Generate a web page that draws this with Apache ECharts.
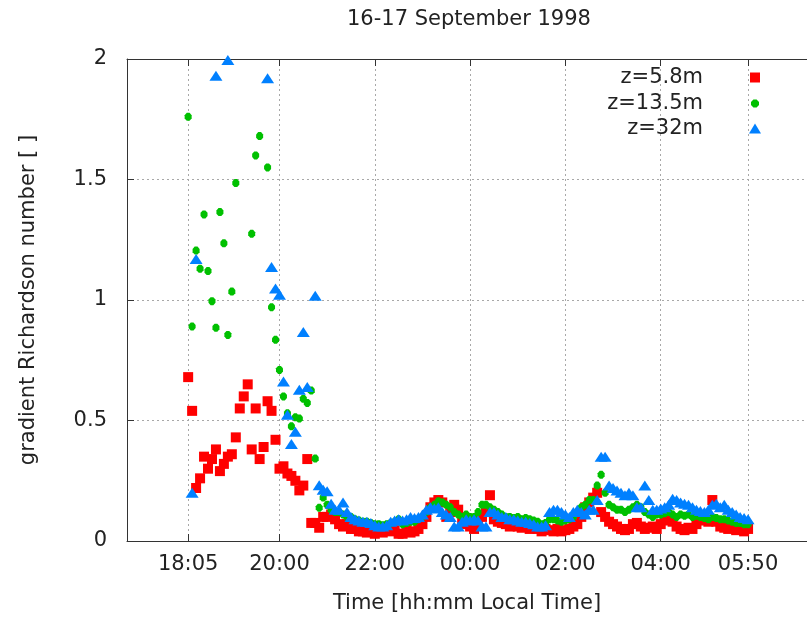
<!DOCTYPE html>
<html>
<head>
<meta charset="utf-8">
<script src="https://cdn.jsdelivr.net/npm/echarts@6/dist/echarts.min.js"></script>
<style>
  html, body { margin: 0; padding: 0; background: #fff; }
  #chart { width: 807px; height: 619px; }
</style>
</head>
<body>
<div id="chart"></div>
<script>
// Gradient Richardson number at three heights, 5-minute samples from 18:05 to 05:50
const titleText = '16-17 September 1998';
const seriesNames = ['z=5.8m', 'z=13.5m', 'z=32m'];
const startTime = '18:05';
const stepMinutes = 5;
const tickLabels = ['18:05', '20:00', '22:00', '00:00', '02:00', '04:00', '05:50'];

const ri58 = [
  0.68, 0.54, 0.22, 0.26, 0.35, 0.30, 0.34, 0.38, 0.29, 0.32,
  0.35, 0.36, 0.43, 0.55, 0.60, 0.65, 0.38, 0.55, 0.34, 0.39,
  0.58, 0.54, 0.42, 0.30, 0.31, 0.28, 0.27, 0.25, 0.21, 0.23,
  0.34, 0.075, 0.075, 0.055, 0.10, 0.10, 0.11, 0.09, 0.07, 0.06,
  0.07, 0.05, 0.05, 0.04, 0.04, 0.035, 0.04, 0.03, 0.04, 0.035,
  0.05, 0.04, 0.045, 0.03, 0.03, 0.045, 0.035, 0.04, 0.05, 0.07,
  0.10, 0.14, 0.16, 0.17, 0.16, 0.10, 0.12, 0.15, 0.13, 0.09,
  0.07, 0.06, 0.05, 0.07, 0.10, 0.12, 0.19, 0.09, 0.08, 0.075,
  0.07, 0.06, 0.065, 0.06, 0.055, 0.06, 0.05, 0.055, 0.05, 0.04,
  0.05, 0.045, 0.04, 0.05, 0.04, 0.045, 0.05, 0.06, 0.07, 0.10,
  0.14, 0.16, 0.18, 0.20, 0.12, 0.10, 0.08, 0.07, 0.06, 0.05,
  0.045, 0.05, 0.07, 0.075, 0.06, 0.05, 0.055, 0.06, 0.05, 0.07,
  0.085, 0.09, 0.08, 0.06, 0.05, 0.045, 0.055, 0.05, 0.07, 0.085,
  0.09, 0.08, 0.17, 0.08, 0.06, 0.055, 0.05, 0.055, 0.045, 0.05,
  0.04, 0.05
];

const ri135 = [
  1.76, 0.89, 1.205, 1.13, 1.355, 1.12, 0.995, 0.885, 1.365, 1.235,
  0.855, 1.035, 1.485, null, null, null, 1.275, 1.60, 1.68, null,
  1.55, 0.97, 0.835, 0.71, 0.60, 0.53, 0.476, 0.513, 0.508, 0.59,
  0.573, 0.624, 0.342, 0.138, 0.18, 0.15, 0.13, 0.12, 0.12, 0.11,
  0.10, 0.10, 0.09, 0.085, 0.08, 0.08, 0.075, 0.07, 0.07, 0.065,
  0.07, 0.075, 0.08, 0.09, 0.07, 0.075, 0.08, 0.08, 0.09, 0.10,
  0.12, 0.14, 0.15, 0.165, 0.16, 0.15, 0.14, 0.12, 0.11, 0.10,
  0.11, 0.10, 0.10, 0.12, 0.15, 0.15, 0.14, 0.13, 0.12, 0.11,
  0.10, 0.10, 0.095, 0.10, 0.09, 0.095, 0.09, 0.085, 0.08, 0.07,
  0.075, 0.09, 0.09, 0.085, 0.08, 0.085, 0.09, 0.10, 0.12, 0.14,
  0.15, 0.17, 0.17, 0.23, 0.275, 0.20, 0.15, 0.14, 0.13, 0.13,
  0.12, 0.13, 0.14, 0.15, 0.14, 0.12, 0.11, 0.10, 0.11, 0.11,
  0.115, 0.12, 0.11, 0.10, 0.11, 0.105, 0.11, 0.10, 0.105, 0.10,
  0.095, 0.09, 0.10, 0.095, 0.09, 0.09, 0.085, 0.08, 0.075, 0.075,
  0.07, 0.07
];

const ri32 = [
  null, 0.20, 1.17, null, null, null, null, 1.93, null, null,
  1.996, null, null, null, null, null, null, null, null, null,
  1.92, 1.137, 1.048, 1.022, 0.662, 0.524, 0.403, 0.453, 0.628, 0.867,
  0.639, null, 1.018, 0.231, 0.213, 0.206, 0.155, 0.13, 0.13, 0.16,
  0.12, 0.10, 0.09, 0.085, 0.08, 0.08, 0.075, 0.065, 0.06, 0.06,
  0.065, 0.08, 0.085, 0.09, 0.085, 0.09, 0.10, 0.095, 0.10, 0.11,
  0.13, 0.14, 0.135, 0.14, 0.12, 0.11, 0.10, 0.06, 0.06, 0.08,
  0.09, 0.085, 0.09, 0.085, 0.06, 0.06, 0.12, 0.12, 0.11, 0.10,
  0.10, 0.09, 0.09, 0.085, 0.08, 0.08, 0.075, 0.07, 0.06, 0.06,
  0.065, 0.12, 0.13, 0.13, 0.12, 0.11, 0.10, 0.12, 0.13, 0.12,
  0.11, 0.13, 0.13, 0.17, 0.35, 0.35, 0.23, 0.22, 0.21, 0.20,
  0.19, 0.20, 0.19, 0.14, 0.14, 0.23, 0.17, 0.13, 0.13, 0.135,
  0.14, 0.15, 0.175, 0.17, 0.16, 0.155, 0.15, 0.14, 0.13, 0.125,
  0.12, 0.13, 0.15, 0.155, 0.14, 0.15, 0.13, 0.12, 0.11, 0.10,
  0.095, 0.09
];

// 'hh:mm' -> hours on an evening-to-morning axis (morning hours continue past 24)
function toHours(label) {
  const [h, m] = label.split(':').map(Number);
  return (h < 12 ? h + 24 : h) + m / 60;
}
function hoursToLabel(v) {
  const total = Math.round(v * 60);
  const h = Math.floor(total / 60) % 24;
  const m = total % 60;
  return String(h).padStart(2, '0') + ':' + String(m).padStart(2, '0');
}

const t0 = toHours(startTime);
function pairs(values) {
  return values.map((v, i) => [t0 + i * stepMinutes / 60, v]);
}
const tickValues = tickLabels.map(toHours);

const FONT = 'DejaVu Sans';
const TEXT = '#222';
const gridLine = { show: true, lineStyle: { color: '#a8a8a8', type: [2, 3], width: 1 } };

const colors = ['#ff0000', '#00c000', '#0080ff'];
const legendIcons = [
  'path://M0,0H10V10H0Z',
  'path://M3,0H7L10,3V7L7,10H3L0,7V3Z',
  'path://M6,0L12,10H0Z'
];
const legendHeights = [10, 8, 10];
const legendTops = [67, 93, 118];
const legendRights = [47, 48, 46];

const chart = echarts.init(document.getElementById('chart'), null, { renderer: 'canvas' });
chart.setOption({
  animation: false,
  backgroundColor: '#fff',
  textStyle: { fontFamily: FONT },
  title: {
    text: titleText,
    left: 347,
    top: 9,
    padding: 0,
    textStyle: { fontFamily: FONT, fontSize: 21, fontWeight: 'normal', color: TEXT }
  },
  legend: seriesNames.map((name, i) => ({
    data: [{ name: name, icon: legendIcons[i] }],
    orient: 'vertical',
    align: 'right',
    right: legendRights[i],
    top: legendTops[i],
    padding: 0,
    itemWidth: 94,
    itemHeight: legendHeights[i],
    selectedMode: false,
    textStyle: { fontFamily: FONT, fontSize: 21, color: TEXT }
  })),
  grid: { left: 127, top: 59, right: -3, bottom: 77 },
  xAxis: [
    {
      type: 'value',
      position: 'bottom',
      min: 16.8,
      max: 31.07,
      name: 'Time [hh:mm Local Time]',
      nameLocation: 'middle',
      nameGap: 52,
      nameTextStyle: { fontFamily: FONT, fontSize: 21, color: TEXT },
      axisLine: { show: true, onZero: false, lineStyle: { color: '#333', width: 1 } },
      axisTick: { show: true, inside: true, length: 7, customValues: tickValues, lineStyle: { color: '#333' } },
      axisLabel: {
        show: true, customValues: tickValues, margin: 13,
        fontFamily: FONT, fontSize: 21, color: TEXT,
        formatter: hoursToLabel
      },
      splitLine: gridLine
    },
    {
      type: 'value',
      position: 'top',
      min: 16.8,
      max: 31.07,
      axisLine: { show: true, onZero: false, lineStyle: { color: '#333', width: 1 } },
      axisTick: { show: true, inside: true, length: 7, customValues: tickValues, lineStyle: { color: '#333' } },
      axisLabel: { show: false },
      splitLine: { show: false }
    }
  ],
  yAxis: {
    type: 'value',
    min: 0,
    max: 2,
    interval: 0.5,
    name: 'gradient Richardson number [ ]',
    nameLocation: 'middle',
    nameRotate: 90,
    nameGap: 88,
    nameTextStyle: { fontFamily: FONT, fontSize: 21, color: TEXT },
    axisLine: { show: true, onZero: false, lineStyle: { color: '#333', width: 1 } },
    axisTick: { show: true, inside: true, length: 7, lineStyle: { color: '#333' } },
    axisLabel: { margin: 20, fontFamily: FONT, fontSize: 21, color: TEXT },
    splitLine: gridLine
  },
  series: [
    {
      name: seriesNames[0], type: 'scatter', data: pairs(ri58),
      symbol: 'rect', symbolSize: 10,
      itemStyle: { color: colors[0], opacity: 1 }
    },
    {
      name: seriesNames[1], type: 'scatter', data: pairs(ri135),
      symbol: 'path://M3,0H7L10,3V7L7,10H3L0,7V3Z', symbolSize: [7, 8],
      itemStyle: { color: colors[1], opacity: 1 }
    },
    {
      name: seriesNames[2], type: 'scatter', data: pairs(ri32),
      symbol: 'triangle', symbolSize: [13, 10],
      itemStyle: { color: colors[2], opacity: 1 }
    }
  ]
});
</script>
</body>
</html>
